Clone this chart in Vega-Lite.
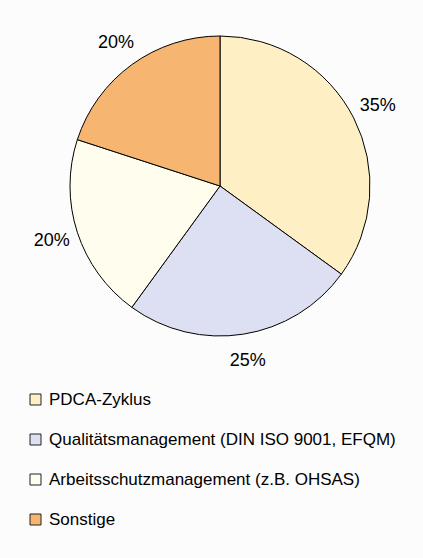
{
  "$schema": "https://vega.github.io/schema/vega-lite/v6.json",
  "width": 406,
  "height": 356,
  "padding": {"left": 17, "top": 8, "right": 0, "bottom": 194},
  "autosize": {"type": "none"},
  "background": "#FCFCFC",
  "data": {
    "values": [
      {"idx": 1, "kategorie": "PDCA-Zyklus", "anteil": 0.35},
      {"idx": 2, "kategorie": "Qualitätsmanagement (DIN ISO 9001, EFQM)", "anteil": 0.25},
      {"idx": 3, "kategorie": "Arbeitsschutzmanagement (z.B. OHSAS)", "anteil": 0.20},
      {"idx": 4, "kategorie": "Sonstige", "anteil": 0.20}
    ]
  },
  "encoding": {
    "theta": {"field": "anteil", "type": "quantitative", "stack": true},
    "order": {"field": "idx", "type": "quantitative"}
  },
  "layer": [
    {
      "mark": {"type": "arc", "outerRadius": 150, "stroke": "#000000", "strokeWidth": 1},
      "encoding": {
        "color": {
          "field": "kategorie",
          "type": "nominal",
          "scale": {
            "domain": ["PDCA-Zyklus", "Qualitätsmanagement (DIN ISO 9001, EFQM)", "Arbeitsschutzmanagement (z.B. OHSAS)", "Sonstige"],
            "range": ["#FFEFC4", "#DCE0F2", "#FFFDEE", "#F7B572"]
          },
          "legend": {
            "title": null,
            "orient": "none",
            "legendX": 10,
            "legendY": 383,
            "direction": "vertical",
            "symbolType": "square",
            "symbolSize": 121,
            "symbolStrokeColor": "#222222",
            "symbolStrokeWidth": 1,
            "labelFont": "Liberation Sans",
            "labelFontSize": 17,
            "labelColor": "#000000",
            "labelOffset": 5,
            "labelLimit": 420,
            "rowPadding": 22,
            "padding": 0
          }
        }
      }
    },
    {
      "mark": {"type": "text", "radius": 177, "font": "Liberation Sans", "fontSize": 18, "color": "#000000", "align": "center", "baseline": "middle"},
      "encoding": {
        "text": {"field": "anteil", "type": "quantitative", "format": ".0%"}
      }
    }
  ],
  "config": {"view": {"stroke": null}}
}
